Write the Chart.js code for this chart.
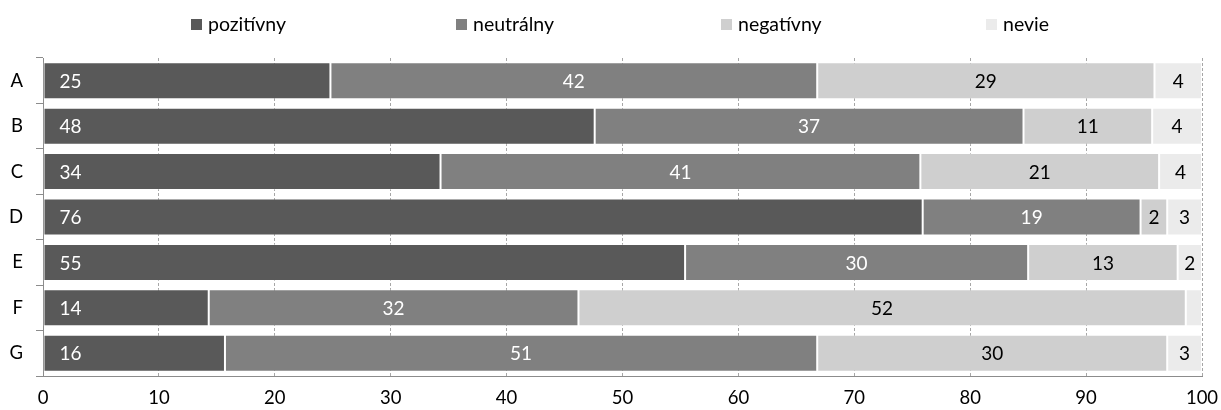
<!DOCTYPE html>
<html>
<head>
<meta charset="utf-8">
<script src="https://cdn.jsdelivr.net/npm/chart.js@4/dist/chart.umd.min.js"></script>
<style>
  html, body { margin: 0; padding: 0; background: #fff; }
</style>
</head>
<body>
<canvas id="graf" width="1221" height="410"></canvas>
<script>
  // kategórie a hodnoty (odčítané z grafu, v %)
  const kategorie = ['A', 'B', 'C', 'D', 'E', 'F', 'G'];
  const pozitivny = [24.8, 47.6, 34.3, 75.9, 55.4, 14.3, 15.7];
  const neutralny = [42.0, 37.0, 41.4, 18.8, 29.6, 31.9, 51.1];
  const negativny = [29.1, 11.1, 20.6, 2.3, 12.9, 52.4, 30.2];
  const nevie = [4.1, 4.3, 3.7, 3.0, 2.1, 1.4, 3.0];
  const osX = [0, 10, 20, 30, 40, 50, 60, 70, 80, 90, 100];

  Chart.defaults.font.family = 'Lato';
  Chart.defaults.color = '#000';

  // legenda ako v Exceli - rovnako široké sloty
  const legenda = {
    id: 'legenda',
    afterDraw(chart) {
      const ctx = chart.ctx;
      ctx.save();
      ctx.font = '19.5px Lato';
      ctx.textBaseline = 'middle';
      ctx.textAlign = 'left';
      chart.data.datasets.forEach((ds, i) => {
        const x = 191 + i * 265;
        ctx.fillStyle = ds.backgroundColor;
        ctx.fillRect(x, 19, 11, 11);
        ctx.fillStyle = '#000';
        ctx.fillText(ds.label, x + 17, 25);
      });
      ctx.restore();
    }
  };

  // popisy hodnôt v stĺpcoch
  const popisy = {
    id: 'popisy',
    afterDatasetsDraw(chart) {
      const ctx = chart.ctx;
      ctx.save();
      ctx.font = '19px Lato';
      ctx.textBaseline = 'middle';
      chart.data.datasets.forEach((ds, i) => {
        const meta = chart.getDatasetMeta(i);
        meta.data.forEach((bar, j) => {
          const p = bar.getProps(['x', 'y', 'base'], true);
          if (p.x - p.base < 20) return;
          const txt = String(Math.round(ds.data[j]));
          ctx.fillStyle = i < 2 ? '#fff' : '#000';
          if (i === 0) {
            ctx.textAlign = 'left';
            ctx.fillText(txt, p.base + 16, p.y + 1);
          } else {
            ctx.textAlign = 'center';
            ctx.fillText(txt, (p.base + p.x) / 2, p.y + 1);
          }
        });
      });
      ctx.restore();
    }
  };

  const okraj = 'rgba(255,255,255,0.35)';

  new Chart(document.getElementById('graf'), {
    type: 'bar',
    data: {
      labels: kategorie,
      datasets: [
        { label: 'pozitívny', data: pozitivny, backgroundColor: '#595959' },
        { label: 'neutrálny', data: neutralny, backgroundColor: '#808080' },
        { label: 'negatívny', data: negativny, backgroundColor: '#cfcfcf' },
        { label: 'nevie', data: nevie, backgroundColor: '#ebebeb' }
      ]
    },
    options: {
      indexAxis: 'y',
      responsive: false,
      animation: false,
      devicePixelRatio: 1,
      layout: { padding: { top: 58, right: 0, left: 0, bottom: 0 } },
      datasets: {
        bar: {
          categoryPercentage: 1,
          barPercentage: 0.815,
          borderWidth: 1,
          borderColor: okraj,
          borderSkipped: false
        }
      },
      plugins: {
        legend: { display: false },
        tooltip: { enabled: false }
      },
      scales: {
        x: {
          stacked: true,
          min: 0,
          max: 100,
          afterBuildTicks: (scale) => { scale.ticks = osX.map(v => ({ value: v })); },
          afterFit: (scale) => {
            scale.height = 34;
            scale.paddingLeft = 0;
            scale.paddingRight = 19;
          },
          grid: {
            drawTicks: false,
            color: (c) => (c.tick && c.tick.value === 0 ? 'rgba(0,0,0,0)' : '#a6a6a6')
          },
          border: { display: true, color: '#8c8c8c', dash: [3, 2] },
          ticks: { padding: 11, font: { size: 18.5 }, maxRotation: 0 }
        },
        y: {
          stacked: true,
          offset: true,
          afterFit: (scale) => { scale.width = 43; },
          grid: { offset: true, drawOnChartArea: false, tickLength: 7, color: '#8c8c8c' },
          border: { color: '#8c8c8c' },
          ticks: { padding: 13, font: { size: 18.5 } }
        }
      }
    },
    plugins: [legenda, popisy]
  });
</script>
</body>
</html>
